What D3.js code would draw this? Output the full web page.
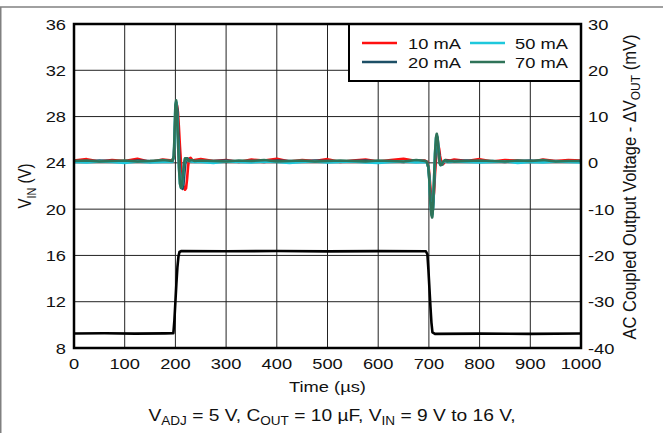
<!DOCTYPE html>
<html><head><meta charset="utf-8">
<script src="https://cdn.jsdelivr.net/npm/d3@7"></script>
<style>
html,body{margin:0;padding:0;background:#fff;}
svg text{font-family:"Liberation Sans",Arial,Helvetica,sans-serif;fill:#111;}
</style>
</head><body>
<svg id="chart" width="663" height="433"></svg>
<script>
// ---------- data ----------
const xTicks = [0,100,200,300,400,500,600,700,800,900,1000];
const leftTicks = [8,12,16,20,24,28,32,36];
const rightTicks = [-40,-30,-20,-10,0,10,20,30];

// input voltage step (V)
const vinTime = [0,60,120,180,196,198,200,202,204,206,208,212,300,400,500,600,694,697,699,701,703,705,707,712,800,900,1000];
const vinVal  = [9.25,9.27,9.24,9.26,9.28,10.4,12.0,13.6,15.0,15.9,16.3,16.38,16.36,16.38,16.35,16.37,16.36,16.1,14.8,13.2,11.6,10.2,9.35,9.22,9.24,9.22,9.25];

// baseline ripple samples (mV) every 25 us
const noiseTime = [0,25,50,75,100,125,150,175,200,225,250,275,300,325,350,375,400,425,450,475,500,525,550,575,600,625,650,675,700,725,750,775,800,825,850,875,900,925,950,975,1000];
const noise10 = [0.5,0.8,0.3,0.6,0.4,0.9,0.2,0.7,0.5,0.3,0.8,0.4,0.6,0.2,0.7,0.5,0.9,0.3,0.6,0.4,0.8,0.2,0.5,0.7,0.3,0.6,0.9,0.4,0.5,0.2,0.7,0.4,0.8,0.3,0.6,0.5,0.2,0.7,0.4,0.6,0.5];
const noise20 = [0.4,0.3,0.5,0.4,0.2,0.5,0.4,0.3,0.5,0.4,0.3,0.4,0.5,0.3,0.4,0.2,0.5,0.4,0.3,0.5,0.4,0.3,0.4,0.5,0.3,0.4,0.2,0.5,0.4,0.3,0.4,0.5,0.3,0.4,0.2,0.4,0.5,0.3,0.4,0.3,0.4];
const noise50 = [0.2,0.1,0.3,0.2,0.0,0.3,0.1,0.2,0.3,0.1,0.2,0.0,0.3,0.2,0.1,0.3,0.2,0.0,0.2,0.3,0.1,0.2,0.3,0.1,0.0,0.2,0.3,0.1,0.2,0.0,0.3,0.2,0.1,0.2,0.3,0.0,0.2,0.1,0.3,0.2,0.1];
const noise70 = [0.4,0.5,0.3,0.4,0.5,0.3,0.4,0.6,0.3,0.4,0.5,0.4,0.3,0.5,0.4,0.6,0.3,0.4,0.5,0.3,0.4,0.5,0.4,0.3,0.5,0.4,0.3,0.6,0.4,0.5,0.3,0.4,0.5,0.4,0.3,0.5,0.4,0.6,0.3,0.4,0.4];

// transient at rising step (mV)
const up10T = [194,197,199,201,203,205,207,209,211,213,215,217,219,221,223,225,227,230,234,238];
const up10V = [0.5,1.2,6,11.5,12.5,11,7.5,3.5,0,-2.8,-4.6,-5.5,-5.8,-5.5,-3.5,-0.8,0.9,1.1,0.5,0.6];
const up20T = [194,197,199,200.5,202,204,206,208,210,212,214,216,218,220,223,227,232,238];
const up20V = [0.4,1.4,6.5,11.5,13,11.5,6,0.5,-3.5,-5.2,-5.6,-4.5,-2,0.3,1.0,0.6,0.5,0.4];
const up50T = [194,197,198.5,200,201.5,203,205,207,209,211,213,215,217,219,222,226,232,238];
const up50V = [0.2,1.5,7,12.5,13.2,11,5,-1,-4.5,-5.3,-4.8,-2.5,-0.2,0.9,0.9,0.4,0.3,0.2];
const up70T = [194,197,198.5,200,201.5,203,205,207,209,211,213,215,217,219,222,226,232,238];
const up70V = [0.4,1.5,7,12.5,13.5,11,5,-1,-4.5,-5.4,-4.8,-2.5,-0.2,1.0,1.0,0.4,0.6,0.4];

// transient at falling step (mV)
const dn10T = [692,697,700,702,704,706,708,710,712,714,716,718,720,722,725,728,733,742];
const dn10V = [0.5,0.2,-1.5,-4,-6.8,-8.2,-8.5,-6.5,-2.5,0.8,2.8,3.6,3.2,1.5,0,-0.3,0.6,0.5];
const dn20T = [692,696,699,701,703,705,707,709,711,713,715,717,719,721,723,726,730,735,742];
const dn20V = [0.4,0.2,-1,-3.5,-7.5,-10.2,-11,-8.5,-3,2,5,5.5,3.5,1,-0.3,-0.4,0.4,0.5,0.4];
const dn50T = [692,696,699,701,703,705,706.5,708,710,712,714,715.5,717,719,721,723,725,728,732,736,742];
const dn50V = [0.2,0.0,-1,-4,-8.5,-11,-11.5,-9.8,-4,2,5.3,6,5.2,2.4,0,-0.5,-0.4,0.2,0.4,0.2,0.2];
const dn70T = [692,696,699,701,703,705,706.5,708,710,712,714,715.5,717,719,721,723,725,728,732,736,742];
const dn70V = [0.4,0.2,-1,-4,-8.5,-11.3,-11.8,-10,-4,2,5.5,6.3,5.5,2.5,0,-0.5,-0.4,0.3,0.6,0.3,0.4];

const seriesNames = ["10 mA","20 mA","50 mA","70 mA"];
const seriesColors = ["#ff1010","#1d4f66","#1ec8dc","#2f7358"];

// ---------- build ----------
function buildSeries(noise, uT, uV, dT, dV) {
  const pts = [];
  noiseTime.forEach((t,i)=>{
    if ((t>=uT[0] && t<=uT[uT.length-1]) || (t>=dT[0] && t<=dT[dT.length-1])) return;
    pts.push([t, noise[i]]);
  });
  uT.forEach((t,i)=>pts.push([t,uV[i]]));
  dT.forEach((t,i)=>pts.push([t,dV[i]]));
  pts.sort((a,b)=>a[0]-b[0]);
  return pts;
}
const series = [
  buildSeries(noise10, up10T, up10V, dn10T, dn10V),
  buildSeries(noise20, up20T, up20V, dn20T, dn20V),
  buildSeries(noise50, up50T, up50V, dn50T, dn50V),
  buildSeries(noise70, up70T, up70V, dn70T, dn70V)
];

const svg = d3.select("#chart");
const L = 74, R = 581, T = 24, B = 348;
const SX = 1.22; // horizontal glyph stretch
const x = d3.scaleLinear().domain([0,1000]).range([L,R]);
const yL = d3.scaleLinear().domain([8,36]).range([B,T]);
const yR = d3.scaleLinear().domain([-40,30]).range([B,T]);

// outer frame of figure
svg.append("line").attr("x1",0).attr("x2",663).attr("y1",7).attr("y2",7).attr("stroke","#808080").attr("stroke-width",1.5);
svg.append("line").attr("x1",0.75).attr("x2",0.75).attr("y1",7).attr("y2",433).attr("stroke","#808080").attr("stroke-width",1.5);

// grid
const grid = svg.append("g");
grid.selectAll(".vg").data(xTicks.slice(1,-1)).enter().append("line")
  .attr("x1",d=>x(d)).attr("x2",d=>x(d)).attr("y1",T).attr("y2",B)
  .attr("stroke","#222").attr("stroke-width",1);
grid.selectAll(".hg").data(leftTicks.slice(1,-1)).enter().append("line")
  .attr("x1",L).attr("x2",R).attr("y1",d=>yL(d)).attr("y2",d=>yL(d))
  .attr("stroke","#222").attr("stroke-width",1);

// traces
const lineR = d3.line().x(d=>x(d[0])).y(d=>yR(d[1]));
series.forEach((s,i)=>{
  svg.append("path").datum(s).attr("d",lineR).attr("fill","none")
    .attr("stroke",seriesColors[i]).attr("stroke-width",2.6).attr("stroke-linejoin","round");
});
const vin = vinTime.map((t,i)=>[t,vinVal[i]]);
svg.append("path").datum(vin).attr("d",d3.line().x(d=>x(d[0])).y(d=>yL(d[1])))
  .attr("fill","none").attr("stroke","#000").attr("stroke-width",2.6).attr("stroke-linejoin","round");

// legend
const lg = svg.append("g");
lg.append("rect").attr("x",349).attr("y",T).attr("width",R-349).attr("height",57)
  .attr("fill","#fff").attr("stroke","#000").attr("stroke-width",2);
const legPos = [[362,397,408,43],[362,397,408,62],[470,505,515,43],[470,505,515,62]];
seriesNames.forEach((n,i)=>{
  const p = legPos[i];
  lg.append("line").attr("x1",p[0]).attr("x2",p[1]).attr("y1",p[3]).attr("y2",p[3])
    .attr("stroke",seriesColors[i]).attr("stroke-width",2.6);
  lg.append("text").attr("transform",`translate(${p[2]},${p[3]+5.5}) scale(${SX},1)`)
    .attr("font-size",15).text(n);
});

// plot frame
svg.append("rect").attr("x",L).attr("y",T).attr("width",R-L).attr("height",B-T)
  .attr("fill","none").attr("stroke","#000").attr("stroke-width",2.5);

// tick labels
svg.selectAll(".xl").data(xTicks).enter().append("text")
  .attr("transform",d=>`translate(${x(d)},${369}) scale(${SX},1)`)
  .attr("text-anchor","middle").attr("font-size",15).text(d=>d);
svg.selectAll(".yl").data(leftTicks).enter().append("text")
  .attr("transform",d=>`translate(66,${yL(d)+5.5}) scale(${SX},1)`)
  .attr("text-anchor","end").attr("font-size",15).text(d=>d);
svg.selectAll(".yr").data(rightTicks).enter().append("text")
  .attr("transform",d=>`translate(588,${yR(d)+5.5}) scale(${SX},1)`)
  .attr("text-anchor","start").attr("font-size",15).text(d=>d);

// axis titles
const lt = svg.append("text").attr("transform",`translate(31,${(T+B)/2}) rotate(-90) scale(1,${SX})`)
  .attr("text-anchor","middle").attr("font-size",15);
lt.append("tspan").text("V");
lt.append("tspan").attr("font-size",11).attr("dy",4).text("IN");
lt.append("tspan").attr("dy",-4).text(" (V)");

const rt = svg.append("text").attr("transform",`translate(636,${(T+B)/2+1}) rotate(-90) scale(1,1.12)`)
  .attr("text-anchor","middle").attr("font-size",16.5);
rt.append("tspan").text("AC Coupled Output Voltage - ΔV");
rt.append("tspan").attr("font-size",12).attr("dy",4).text("OUT");
rt.append("tspan").attr("dy",-4).text(" (mV)");

svg.append("text").attr("transform",`translate(${(L+R)/2},392) scale(${SX},1)`)
  .attr("text-anchor","middle").attr("font-size",15).text("Time (µs)");

const cap = svg.append("text").attr("transform",`translate(332,421) scale(1.13,1)`)
  .attr("text-anchor","middle").attr("font-size",17);
cap.append("tspan").text("V");
cap.append("tspan").attr("font-size",12).attr("dy",4).text("ADJ");
cap.append("tspan").attr("dy",-4).text(" = 5 V, C");
cap.append("tspan").attr("font-size",12).attr("dy",4).text("OUT");
cap.append("tspan").attr("dy",-4).text(" = 10 µF, V");
cap.append("tspan").attr("font-size",12).attr("dy",4).text("IN");
cap.append("tspan").attr("dy",-4).text(" = 9 V to 16 V,");
</script>
</body></html>
